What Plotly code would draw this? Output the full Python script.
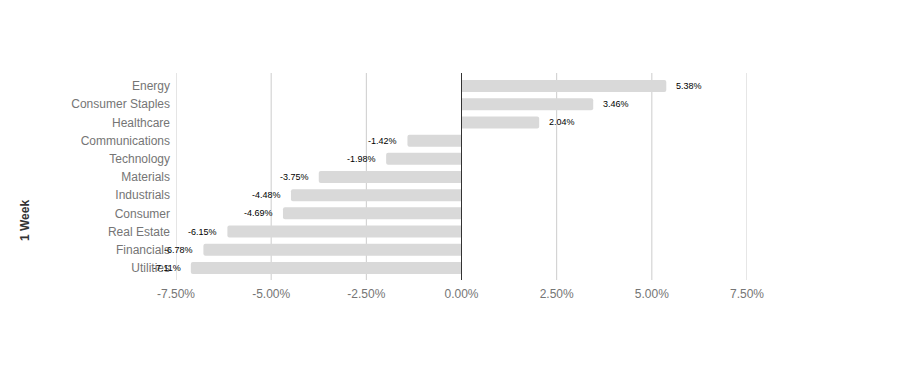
import plotly.graph_objects as go

categories = ["Energy", "Consumer Staples", "Healthcare", "Communications", "Technology",
              "Materials", "Industrials", "Consumer", "Real Estate", "Financials", "Utilities"]
values = [5.38, 3.46, 2.04, -1.42, -1.98, -3.75, -4.48, -4.69, -6.15, -6.78, -7.11]
labels = ["5.38%", "3.46%", "2.04%", "-1.42%", "-1.98%", "-3.75%", "-4.48%", "-4.69%",
          "-6.15%", "-6.78%", "-7.11%"]
tick_vals = [-7.5, -5.0, -2.5, 0.0, 2.5, 5.0, 7.5]
tick_text = ["-7.50%", "-5.00%", "-2.50%", "0.00%", "2.50%", "5.00%", "7.50%"]

W, H = 924, 391
ML, MR, MT, MB = 168, 185, 69, 122
PH = H - MT - MB

fig = go.Figure(go.Bar(
    x=values, y=categories, orientation="h",
    marker=dict(color="#d9d9d9", line=dict(width=0)),
    hoverinfo="skip",
))

annotations = []
for c, v, t in zip(categories, values, labels):
    annotations.append(dict(
        x=v, y=c, xref="x", yref="y", text=t, showarrow=False,
        xanchor="left" if v >= 0 else "right",
        xshift=8 if v >= 0 else -8,
        font=dict(family="Arial, Liberation Sans", size=9, color="#000000"),
    ))
annotations.append(dict(
    x=(17 - ML) / (W - ML - MR), y=(H - MB - 213) / PH, xref="paper", yref="paper",
    text="<b>1 Week</b>", showarrow=False,
    textangle=-90, xanchor="center", yanchor="middle",
    font=dict(family="Arial, Liberation Sans", size=12, color="#333333"),
))

shapes = []
for tv in tick_vals:
    shapes.append(dict(
        type="line", xref="x", yref="paper", x0=tv, x1=tv,
        y0=-3 / PH, y1=1 + 4 / PH,
        line=dict(color="#333333" if tv == 0 else "#cccccc", width=1),
        layer="above" if tv == 0 else "below",
    ))

fig.update_layout(
    width=W, height=H,
    margin=dict(l=ML, r=MR, t=MT, b=MB),
    paper_bgcolor="white", plot_bgcolor="white",
    bargap=0.34, barcornerradius=2,
    showlegend=False,
    font=dict(family="Arial, Liberation Sans", size=12, color="#757575"),
    annotations=annotations,
    shapes=shapes,
    xaxis=dict(
        range=[-7.5, 7.5], tickvals=tick_vals, ticktext=tick_text,
        showgrid=False, zeroline=False,
        showline=False, ticks="", ticklabelstandoff=8, automargin=False,
        tickfont=dict(size=12, color="#757575"), fixedrange=True,
    ),
    yaxis=dict(
        categoryorder="array", categoryarray=categories[::-1],
        showgrid=False, zeroline=False, showline=False, ticks="",
        tickfont=dict(size=12, color="#757575"), automargin=False,
        ticklabelstandoff=5, fixedrange=True,
    ),
)

fig.write_html("out.html")
